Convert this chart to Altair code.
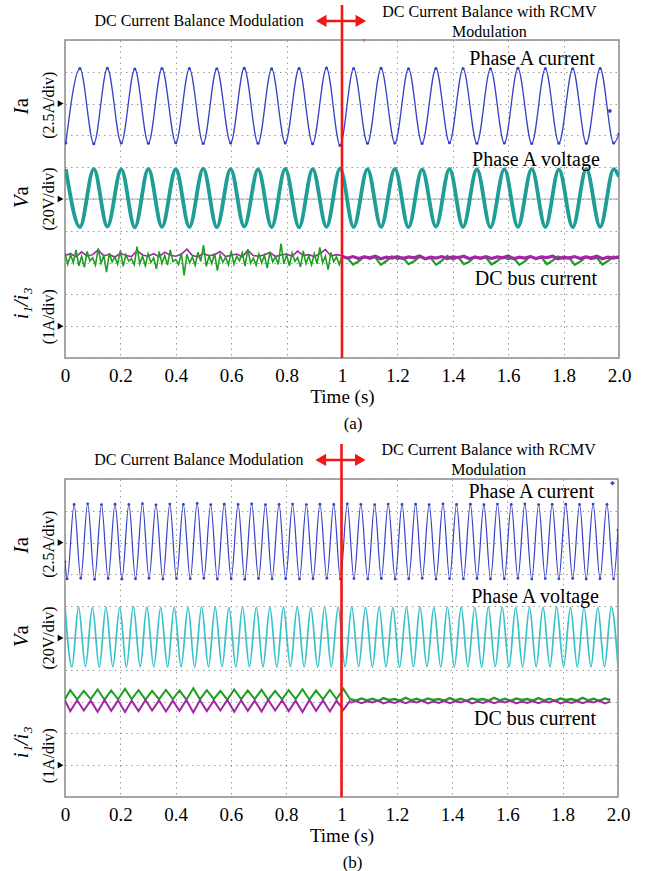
import altair as alt
import pandas as pd

SERIF = "Liberation Serif"

# ---------------- axis ticks ----------------
x_tick_values = [0.0, 0.2, 0.4, 0.6, 0.8, 1.0, 1.2, 1.4, 1.6, 1.8, 2.0]
x_tick_labels = ["0", "0.2", "0.4", "0.6", "0.8", "1", "1.2", "1.4", "1.6", "1.8", "2.0"]
y_div_values = [0, 1, 2, 3, 4, 5, 6, 7, 8, 9, 10]

# scope channel settings: reference division and units per division
ia_ref, ia_per_div = 8, 2.5     # Ia  (2.5 A/div)
va_ref, va_per_div = 5, 20.0    # Va  (20 V/div)
dc_ref, dc_per_div = 1, 1.0     # i1/i3 (1 A/div)

# ---------------- panel (a) ----------------
# extrema times (s) of the 10 Hz phase current / voltage
ext_a_t = [0.003, 0.054, 0.104, 0.153, 0.203, 0.252, 0.301, 0.350, 0.400, 0.449,
           0.499, 0.548, 0.598, 0.647, 0.697, 0.746, 0.795, 0.845, 0.894, 0.944,
           0.993, 1.042, 1.092, 1.141, 1.191, 1.240, 1.289, 1.339, 1.388, 1.437,
           1.487, 1.536, 1.586, 1.635, 1.685, 1.734, 1.783, 1.833, 1.882, 1.932,
           1.981, 2.000]
ia_a_v = [-3.10, 2.75, -3.15, 2.78, -3.10, 2.72, -3.12, 2.76, -3.08, 2.75,
          -3.14, 2.74, -3.10, 2.78, -3.12, 2.73, -3.09, 2.76, -3.15, 2.80,
          -3.28, 2.75, -3.12, 2.77, -3.10, 2.74, -3.13, 2.76, -3.08, 2.75,
          -3.12, 2.73, -3.10, 2.77, -3.14, 2.75, -3.11, 2.74, -3.12, 2.76,
          -3.10, -2.40]
va_a_v = [18.8, -17.6, 19.0, -17.4, 18.6, -17.8, 18.9, -17.5, 18.7, -17.6,
          19.1, -17.7, 18.8, -17.4, 18.6, -17.6, 18.9, -17.8, 18.7, -17.5,
          19.2, -17.6, 18.8, -17.5, 19.0, -17.7, 18.6, -17.4, 18.9, -17.6,
          18.7, -17.8, 18.8, -17.5, 19.0, -17.6, 18.6, -17.7, 18.9, -17.5,
          18.8, 14.0]

# DC bus currents (A), before the switch sampled every 0.01 s / 0.02 s
dca_green_before = [2.30, 1.95, 2.25, 2.00, 2.40, 1.90, 2.20, 1.85, 2.35, 2.05,
                    2.15, 1.92, 2.45, 1.98, 2.22, 1.70, 2.30, 2.02, 2.18, 1.95,
                    2.38, 1.88, 2.25, 2.05, 2.12, 1.93, 2.50, 1.96, 2.20, 1.90,
                    2.28, 2.00, 2.15, 1.80, 2.35, 1.97, 2.22, 1.92, 2.40, 2.03,
                    2.10, 1.94, 2.30, 1.60, 2.26, 1.99, 2.18, 1.91, 2.33, 2.04,
                    2.55, 1.88, 2.21, 1.97, 2.29, 1.75, 2.24, 2.01, 2.17, 1.93,
                    2.36, 1.95, 2.20, 2.06, 2.31, 1.89, 2.42, 1.98, 2.14, 1.92,
                    2.27, 1.99, 2.23, 1.83, 2.34, 2.02, 2.19, 1.94, 2.60, 1.96,
                    2.25, 1.90, 2.30, 2.04, 2.16, 1.86, 2.37, 1.97, 2.21, 1.93,
                    2.28, 1.96, 2.48, 1.99, 2.20, 1.78, 2.32, 2.03, 2.18, 1.94,
                    2.20]
dca_mag_before = [2.22, 2.28, 2.18, 2.34, 2.20, 2.25, 2.40, 2.21, 2.26, 2.17,
                  2.30, 2.22, 2.19, 2.38, 2.24, 2.20, 2.28, 2.18, 2.33, 2.23,
                  2.20, 2.26, 2.42, 2.22, 2.18, 2.29, 2.21, 2.25, 2.35, 2.19,
                  2.23, 2.27, 2.18, 2.39, 2.22, 2.20, 2.25, 2.32, 2.19, 2.24,
                  2.27, 2.20, 2.36, 2.22, 2.25, 2.19, 2.28, 2.41, 2.21, 2.25,
                  2.22]
dca_green_after = [2.20, 2.14, 1.94, 2.04, 2.19, 2.12, 2.17, 1.93, 2.05, 2.20,
                   2.11, 2.16, 1.95, 2.04, 2.18, 2.13, 2.15, 1.93, 2.06, 2.21,
                   2.10, 2.17, 1.95, 2.03, 2.19, 2.12, 2.16, 1.94, 2.05, 2.18,
                   2.11, 2.15, 1.93, 2.04, 2.20, 2.13, 2.17, 1.95, 2.06, 2.19,
                   2.12, 2.16, 1.93, 2.03, 2.18, 2.11, 2.15, 1.94, 2.05, 2.19,
                   2.13]
dca_mag_after = [2.20, 2.14, 2.19, 2.13, 2.18, 2.15, 2.20, 2.12, 2.17, 2.14,
                 2.19, 2.13, 2.18, 2.15, 2.21, 2.12, 2.17, 2.14, 2.19, 2.13,
                 2.18, 2.16, 2.20, 2.12, 2.17, 2.14, 2.19, 2.13, 2.18, 2.15,
                 2.21, 2.12, 2.17, 2.14, 2.19, 2.13, 2.18, 2.16, 2.20, 2.12,
                 2.17, 2.14, 2.19, 2.13, 2.18, 2.15, 2.20, 2.12, 2.17, 2.14,
                 2.18]

# ---------------- panel (b) ----------------
ia_b_t = [0.000,
          0.008, 0.033, 0.057, 0.082, 0.107, 0.132, 0.156, 0.181, 0.206, 0.231,
          0.255, 0.280, 0.304, 0.329, 0.354, 0.379, 0.403, 0.428, 0.453, 0.478,
          0.502, 0.527, 0.551, 0.576, 0.601, 0.626, 0.650, 0.675, 0.700, 0.725,
          0.749, 0.774, 0.798, 0.823, 0.848, 0.873, 0.897, 0.922, 0.947, 0.972,
          0.996, 1.021, 1.045, 1.070, 1.095, 1.120, 1.144, 1.169, 1.194, 1.219,
          1.243, 1.268, 1.292, 1.317, 1.342, 1.367, 1.391, 1.416, 1.441, 1.466,
          1.490, 1.515, 1.539, 1.564, 1.589, 1.614, 1.638, 1.663, 1.688, 1.713,
          1.737, 1.762, 1.786, 1.811, 1.836, 1.861, 1.885, 1.910, 1.935, 1.960,
          1.984, 2.000]
ia_b_v = [-1.50,
          -2.85, 3.00, -2.80, 3.05, -2.88, 2.98, -2.82, 3.02, -2.86, 3.00,
          -2.84, 3.06, -2.80, 2.97, -2.87, 3.03, -2.83, 3.00, -2.85, 3.08,
          -2.81, 2.99, -2.86, 3.02, -2.84, 3.00, -2.88, 3.04, -2.82, 2.98,
          -2.85, 3.01, -2.83, 3.03, -2.86, 2.99, -2.84, 3.02, -2.80, 3.00,
          -2.87, 3.05, -2.83, 3.01, -2.85, 2.98, -2.82, 3.03, -2.86, 3.00,
          -2.84, 3.02, -2.81, 2.99, -2.87, 3.04, -2.83, 3.00, -2.85, 3.02,
          -2.82, 2.98, -2.86, 3.03, -2.84, 3.00, -2.80, 3.05, -2.87, 2.99,
          -2.83, 3.01, -2.85, 3.02, -2.82, 3.00, -2.86, 3.03, -2.84, 3.01,
          -2.85, 1.00]
va_b_t = [0.000, 0.025, 0.049, 0.074, 0.099, 0.124, 0.148, 0.173, 0.198, 0.222,
          0.247, 0.272, 0.296, 0.321, 0.346, 0.371, 0.395, 0.420, 0.445, 0.469,
          0.494, 0.519, 0.543, 0.568, 0.593, 0.618, 0.642, 0.667, 0.692, 0.716,
          0.741, 0.766, 0.790, 0.815, 0.840, 0.865, 0.889, 0.914, 0.939, 0.963,
          0.988, 1.013, 1.037, 1.062, 1.087, 1.112, 1.136, 1.161, 1.186, 1.210,
          1.235, 1.260, 1.284, 1.309, 1.334, 1.359, 1.383, 1.408, 1.433, 1.457,
          1.482, 1.507, 1.531, 1.556, 1.581, 1.606, 1.630, 1.655, 1.680, 1.704,
          1.729, 1.754, 1.778, 1.803, 1.828, 1.853, 1.877, 1.902, 1.927, 1.951,
          1.976, 2.000]
va_b_v = [19.4, -18.2, 19.6, -18.0, 19.2, -18.4, 19.5, -18.1, 19.3, -18.3,
          19.7, -18.0, 19.4, -18.2, 19.1, -18.3, 19.5, -18.1, 19.3, -18.4,
          19.6, -18.2, 19.4, -18.0, 19.2, -18.3, 19.5, -18.1, 19.4, -18.2,
          19.3, -18.4, 19.6, -18.0, 19.4, -18.2, 19.1, -18.3, 19.5, -18.1,
          19.4, -18.2, 19.6, -18.0, 19.3, -18.3, 19.5, -18.1, 19.2, -18.4,
          19.4, -18.2, 19.6, -18.0, 19.3, -18.3, 19.5, -18.1, 19.4, -18.2,
          19.2, -18.4, 19.6, -18.0, 19.4, -18.2, 19.3, -18.3, 19.5, -18.1,
          19.4, -18.2, 19.6, -18.0, 19.3, -18.3, 19.5, -18.1, 19.2, -18.2,
          19.4, -18.0]

# DC bus currents: lens ripple until the switch, then flat
dcb_before_t = [0.000, 0.019, 0.044, 0.068, 0.093, 0.118, 0.143, 0.167, 0.192, 0.217,
                0.241, 0.266, 0.291, 0.315, 0.340, 0.365, 0.390, 0.414, 0.439, 0.464,
                0.488, 0.513, 0.538, 0.562, 0.587, 0.612, 0.637, 0.661, 0.686, 0.711,
                0.735, 0.760, 0.785, 0.809, 0.834, 0.859, 0.884, 0.908, 0.933, 0.958,
                0.982, 1.007, 1.032]
dcb_green_before = [2.07, 2.36, 2.07, 2.34, 2.08, 2.38, 2.06, 2.35, 2.07, 2.40,
                    2.08, 2.36, 2.06, 2.34, 2.07, 2.37, 2.08, 2.35, 2.06, 2.42,
                    2.07, 2.36, 2.08, 2.34, 2.06, 2.38, 2.07, 2.35, 2.08, 2.37,
                    2.06, 2.34, 2.07, 2.36, 2.08, 2.39, 2.06, 2.35, 2.07, 2.37,
                    2.08, 2.40, 2.06]
dcb_mag_before = [2.04, 1.70, 2.04, 1.72, 2.03, 1.68, 2.05, 1.71, 2.04, 1.67,
                  2.03, 1.70, 2.05, 1.72, 2.04, 1.69, 2.03, 1.71, 2.05, 1.66,
                  2.04, 1.70, 2.03, 1.72, 2.05, 1.68, 2.04, 1.71, 2.03, 1.69,
                  2.05, 1.72, 2.04, 1.70, 2.03, 1.67, 2.05, 1.71, 2.04, 1.69,
                  2.03, 1.74, 2.04]
dcb_green_after = [2.08, 2.03, 2.10, 2.04, 2.09, 2.02, 2.11, 2.05, 2.08, 2.03,
                   2.12, 2.04, 2.09, 2.02, 2.10, 2.05, 2.08, 2.03, 2.11, 2.04,
                   2.09, 2.02, 2.10, 2.05, 2.08, 2.03, 2.12, 2.04, 2.09, 2.02,
                   2.10, 2.05, 2.08, 2.03, 2.11, 2.04, 2.09, 2.02, 2.10, 2.05,
                   2.08, 2.03, 2.12, 2.04, 2.09, 2.02, 2.10, 2.05]
dcb_mag_after = [1.96, 2.02, 1.95, 2.01, 1.97, 2.03, 1.94, 2.00, 1.96, 2.02,
                 1.95, 2.01, 1.97, 2.03, 1.94, 2.00, 1.96, 2.02, 1.95, 2.01,
                 1.97, 2.03, 1.94, 2.00, 1.96, 2.02, 1.95, 2.01, 1.97, 2.03,
                 1.94, 2.00, 1.96, 2.02, 1.95, 2.01, 1.97, 2.03, 1.94, 2.00,
                 1.96, 2.02, 1.95, 2.01, 1.97, 2.03, 1.94, 2.00]

# sample time bases of the DC traces
dca_t_before = [round(0.01 * i, 2) for i in range(len(dca_green_before))]
dca_t_before2 = [round(0.02 * i, 2) for i in range(len(dca_mag_before))]
dca_t_after = [round(1.0 + 0.02 * i, 2) for i in range(len(dca_green_after))]
dcb_t_after = [round(1.032 + 0.02 * i, 3) for i in range(len(dcb_green_after))]

# ---------------- styling ----------------
C_IA = "#3441c8"
C_VA_A = "#1f9e96"
C_VA_B = "#36c2ca"
C_GREEN = "#1f9f22"
C_MAG = "#a624a8"
C_RED = "#f21616"
GRID = "#9a9a9a"

XS = alt.Scale(domain=[0, 2], nice=False, zero=False)
YS = alt.Scale(domain=[0, 10], nice=False, zero=False)

label_expr = "[" + ",".join("'%s'" % s for s in x_tick_labels) + "][round(datum.value*5)]"

X_AXIS = alt.Axis(values=x_tick_values, labelExpr=label_expr, grid=True, gridDash=[1.5, 4],
                  gridColor=GRID, gridWidth=1, ticks=False, domain=False, labelFlush=False,
                  labelOverlap=False, labelFont=SERIF, labelFontSize=19, labelColor="black",
                  labelPadding=8, title="Time (s)", titleFont=SERIF, titleFontSize=19,
                  titleFontWeight="normal", titleColor="black", titlePadding=2)
Y_AXIS = alt.Axis(values=y_div_values, grid=True, gridDash=[1.5, 4], gridColor=GRID,
                  gridWidth=1, labels=False, ticks=False, domain=False, title=None)

ONE = pd.DataFrame({"k": [0]})


def scaled(t, v, ref, per):
    return pd.DataFrame({"t": t, "y": [ref + x / per for x in v]})


def XF():
    return alt.X("t:Q", scale=XS, axis=X_AXIS)


def YF():
    return alt.Y("y:Q", scale=YS, axis=Y_AXIS)


def XD(v):
    return alt.XDatum(v, scale=XS, axis=X_AXIS)


def YD(v):
    return alt.YDatum(v, scale=YS, axis=Y_AXIS)


def line(df, color, width, interp="linear"):
    return alt.Chart(df).mark_line(color=color, strokeWidth=width, interpolate=interp,
                                   clip=True).encode(x=XF(), y=YF())


def dots(df, color, size):
    return alt.Chart(df).mark_point(color=color, filled=True, size=size, opacity=1,
                                    clip=True).encode(x=XF(), y=YF())


def txt(s, t, y, size, angle=0, style="normal", color="black"):
    return alt.Chart(ONE).mark_text(text=s, font=SERIF, fontSize=size, fontStyle=style,
                                    color=color, angle=angle, align="center",
                                    baseline="middle").encode(x=XD(t), y=YD(y))


def marker(shape, t, y, size, color):
    return alt.Chart(ONE).mark_point(shape=shape, size=size, filled=True, color=color,
                                     opacity=1, strokeWidth=0).encode(x=XD(t), y=YD(y))


def hrule(t1, t2, y, color, width):
    return alt.Chart(ONE).mark_rule(color=color, strokeWidth=width).encode(
        x=XD(t1), x2=alt.datum(t2), y=YD(y))


def vrule(t, y1, y2, color, width):
    return alt.Chart(ONE).mark_rule(color=color, strokeWidth=width).encode(
        x=XD(t), y=YD(y1), y2=alt.datum(y2))


def common_annotations(tl, tr1, tr2, trace_lbl, tag):
    return [
        txt("DC Current Balance Modulation", 0.484, tl, 16),
        txt("DC Current Balance with RCMV", 1.532, tr1, 16),
        txt("Modulation", 1.532, tr2, 16),
        hrule(0.935, 1.058, tl, C_RED, 2.5),
        marker("triangle-left", 0.925, tl, 150, C_RED),
        marker("triangle-right", 1.068, tl, 150, C_RED),
        vrule(1.0, 0, 11.1, C_RED, 2.6),
        txt("Phase A current", 1.686, trace_lbl[0], 20),
        txt("Phase A voltage", 1.70, trace_lbl[1], 20),
        txt("DC bus current", 1.70, trace_lbl[2], 20),
        # channel names and scales at the left
        txt("I", -0.155, 7.77, 21, angle=270, style="italic"),
        txt("a", -0.155, 8.03, 21, angle=270),
        txt("(2.5A/div)", -0.058, 7.95, 16, angle=270),
        txt("V", -0.155, 4.91, 21, angle=270, style="italic"),
        txt("a", -0.155, 5.26, 21, angle=270),
        txt("(20V/div)", -0.058, 5.0, 16, angle=270),
        txt("i\u2081/i\u2083", -0.155, 1.72, 21, angle=270, style="italic"),
        txt("(1A/div)", -0.058, 1.3, 16, angle=270),
        marker("triangle-right", -0.016, ia_ref, 45, "black"),
        marker("triangle-right", -0.016, va_ref, 45, "black"),
        marker("triangle-right", -0.016, dc_ref, 45, "black"),
        txt(tag, 1.04, -2.08, 17),
    ]


# ---------- build panel (a) ----------
ia_a = scaled(ext_a_t, ia_a_v, ia_ref, ia_per_div)
va_a = scaled(ext_a_t, va_a_v, va_ref, va_per_div)
pa_layers = [
    hrule(0, 2, va_ref, "#a8a8a8", 1.2),
    line(ia_a, C_IA, 1.3, "monotone"),
    dots(ia_a, C_IA, 10),
    line(va_a, C_VA_A, 3.8, "monotone"),
    line(scaled(dca_t_before2, dca_mag_before, dc_ref, dc_per_div), C_MAG, 1.6),
    line(scaled(dca_t_before, dca_green_before, dc_ref, dc_per_div), C_GREEN, 1.6),
    line(scaled(dca_t_after, dca_green_after, dc_ref, dc_per_div), C_GREEN, 2.2),
    line(scaled(dca_t_after, dca_mag_after, dc_ref, dc_per_div), C_MAG, 3.2),
    marker("circle", 1.967, 7.77, 14, C_IA),
    marker("triangle-down", 1.08, 9.98, 14, "#e07020"),
] + common_annotations(10.6, 10.88, 10.25, (9.4, 6.23, 2.48), "(a)")
panel_a = alt.layer(*pa_layers).properties(width=554, height=318)

# ---------- build panel (b) ----------
ia_b = scaled(ia_b_t, ia_b_v, ia_ref, ia_per_div)
va_b = scaled(va_b_t, va_b_v, va_ref, va_per_div)
pb_layers = [
    hrule(0, 2, va_ref, "#a8a8a8", 1.2),
    line(ia_b, C_IA, 1.2, "monotone"),
    dots(ia_b, C_IA, 8),
    line(va_b, C_VA_B, 1.7, "monotone"),
    line(scaled(dcb_before_t, dcb_green_before, dc_ref, dc_per_div), C_GREEN, 2.0),
    line(scaled(dcb_before_t, dcb_mag_before, dc_ref, dc_per_div), C_MAG, 2.0),
    line(scaled(dcb_t_after, dcb_green_after, dc_ref, dc_per_div), C_GREEN, 2.4),
    line(scaled(dcb_t_after, dcb_mag_after, dc_ref, dc_per_div), C_MAG, 2.0),
    marker("cross", 1.98, 9.87, 16, C_IA),
] + common_annotations(10.6, 10.91, 10.28, (9.59, 6.29, 2.45), "(b)")
panel_b = alt.layer(*pb_layers).properties(width=553, height=318)

chart = alt.vconcat(panel_a, panel_b, spacing=121, bounds="flush").properties(
    padding={"left": 10, "top": 2, "right": 5, "bottom": 0},
    background="white",
).configure_view(stroke="#8c8c8c", strokeWidth=1.5)

chart.save("out.html", embed_options={"renderer": "svg", "actions": False})
